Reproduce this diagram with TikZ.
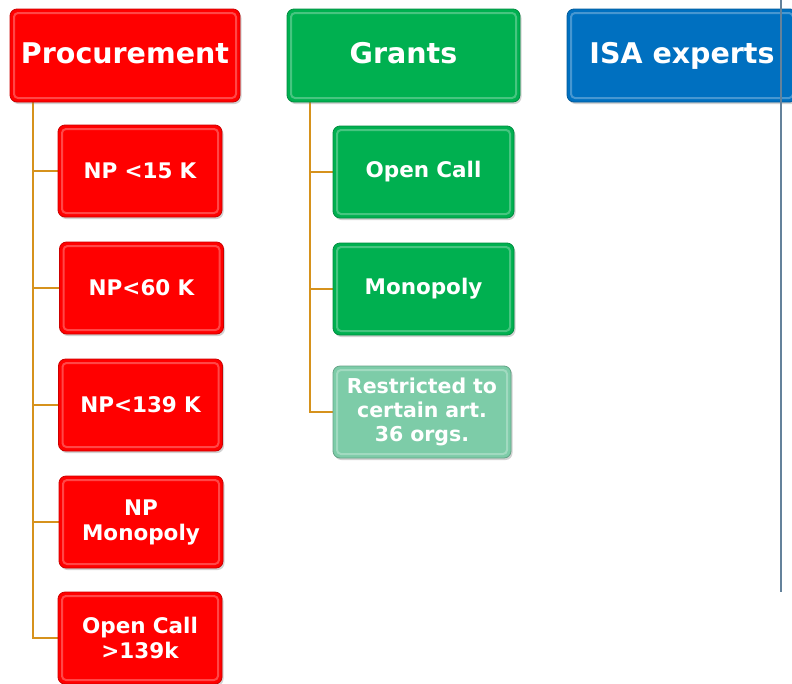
\documentclass[tikz,border=0pt]{standalone}
\usepackage{fontspec}
\setmainfont{DejaVu Sans}
\usetikzlibrary{shadows,backgrounds}
\definecolor{cred}{RGB}{255,0,0}
\definecolor{cgreen}{RGB}{0,176,80}
\definecolor{cblue}{RGB}{0,112,192}
\definecolor{clight}{RGB}{125,204,168}
\definecolor{cconn}{RGB}{214,146,28}
\definecolor{cvline}{RGB}{100,130,155}
\tikzset{
  bevelbox/.style={rounded corners=7pt, draw=#1!80!black, line width=0.8pt, fill=#1,
    text=white, font=\bfseries, align=center, inner sep=0pt,
    drop shadow={shadow xshift=1.5pt, shadow yshift=-2pt, opacity=0.35},
    path picture={\draw[white, opacity=0.28, line width=2pt, rounded corners=4pt]
      ([shift={(4pt,-4pt)}]path picture bounding box.north west) rectangle
      ([shift={(-4pt,4pt)}]path picture bounding box.south east);}},
  headbox/.style={bevelbox=#1, minimum width=230pt, minimum height=93pt, text height=21pt, text depth=6pt, font=\bfseries\fontsize{28.5}{33}\selectfont},
  childbox/.style={bevelbox=#1, minimum height=92pt, text width=164pt, font=\bfseries\fontsize{21.5}{25}\selectfont},
  conn/.style={color=cconn, line width=2.2pt},
  vline/.style={color=cvline, line width=1.3pt}
}
\begin{document}
\begin{tikzpicture}[x=1pt,y=-1pt]
\clip (0,0) rectangle (792,683);
% headers
\node[headbox=cred] (proc) at (125,55.5) {Procurement};
\node[headbox=cgreen, minimum width=233pt] (grants) at (403.5,55.5) {Grants};
\node[headbox=cblue] (isa) at (682,55.5) {ISA experts};
% procurement children
\node[childbox=cred] (np15) at (140,171) {NP <15 K};
\node[childbox=cred] (np60) at (141.5,288) {NP<60 K};
\node[childbox=cred] (np139) at (140.5,405) {NP<139 K};
\node[childbox=cred] (npmono) at (141,522) {NP\\Monopoly};
\node[childbox=cred] (open139) at (140,638) {Open Call\\>139k};
% grants children
\node[childbox=cgreen, text width=181pt] (gopen) at (423.5,172) {Open Call};
\node[childbox=cgreen, text width=181pt] (gmono) at (423.5,289) {Monopoly};
\node[childbox=clight, text width=178pt, font=\bfseries\fontsize{20.5}{24}\selectfont] (grestr) at (422,412) {Restricted to\\certain art.\\36 orgs.};
% connectors
\begin{scope}[on background layer]
\fill[white] (0,0) rectangle (792,683);
\draw[conn] ([xshift=23pt]proc.south west) |- (np15.west);
\draw[conn] ([xshift=23pt]proc.south west) |- (np60.west);
\draw[conn] ([xshift=23pt]proc.south west) |- (np139.west);
\draw[conn] ([xshift=23pt]proc.south west) |- (npmono.west);
\draw[conn] ([xshift=23pt]proc.south west) |- (open139.west);
\draw[conn] ([xshift=23pt]grants.south west) |- (gopen.west);
\draw[conn] ([xshift=23pt]grants.south west) |- (gmono.west);
\draw[conn] ([xshift=23pt]grants.south west) |- (grestr.west);
\end{scope}
% vertical divider line
\coordinate (vtop) at (781,0);
\coordinate (vbot) at (781,592);
\draw[vline] (vtop) -- (vbot);
\end{tikzpicture}
\end{document}
